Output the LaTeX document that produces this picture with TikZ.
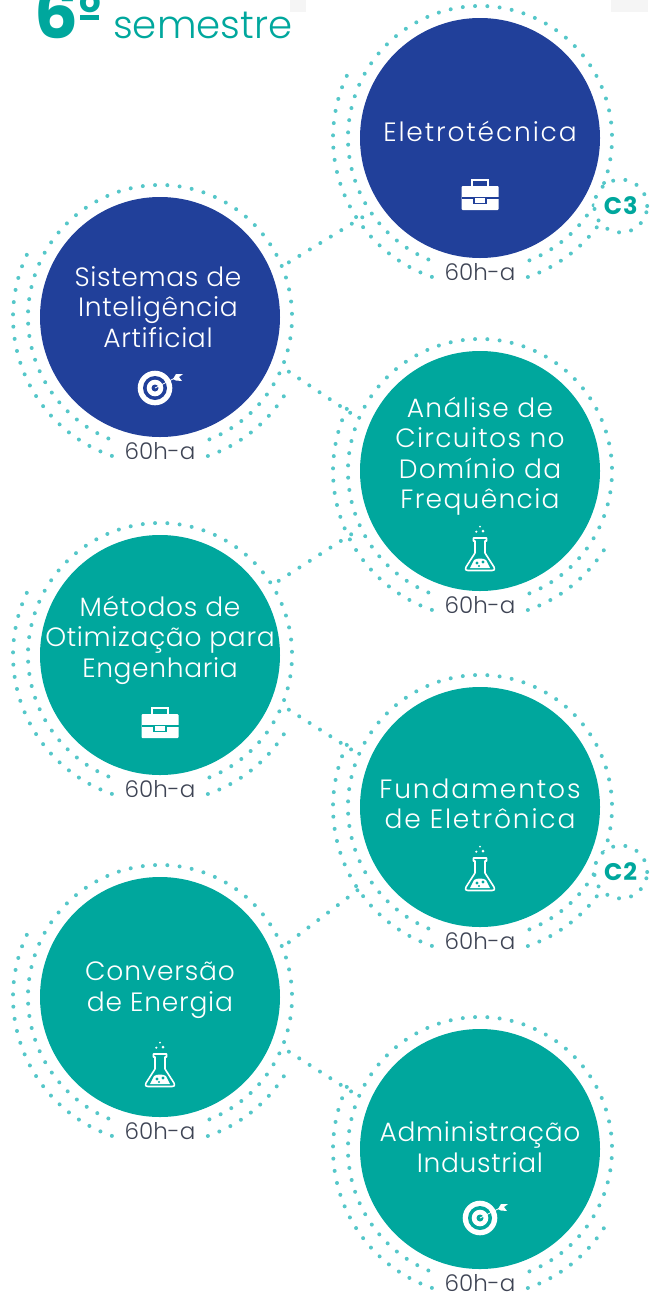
\documentclass[tikz,border=0pt]{standalone}
\usepackage{fontspec}
\setmainfont{Poppins}[UprightFont=*-Light,BoldFont=*-Bold]
\usepackage{tikz}
\usetikzlibrary{arrows,positioning}

\definecolor{navy}{HTML}{21409A}
\definecolor{teal}{HTML}{00A79D}
\definecolor{dotteal}{HTML}{55C7C9}
\definecolor{hourgray}{HTML}{3E4454}

\tikzset{
  semnode/.style={circle,minimum size=240pt,inner sep=0pt,outer sep=20pt},
  navynode/.style={semnode,fill=navy},
  tealnode/.style={semnode,fill=teal},
  semtext/.style={align=center,text=white,font=\fontsize{26.5}{30.5}\selectfont\addfontfeature{LetterSpace=#1}},
  hourlabel/.style={text=hourgray,font=\fontsize{23}{24}\selectfont},
  dotted line/.style={draw=dotteal,line width=4pt,line cap=round,dash pattern=on 0pt off 12.3pt},
  credit/.style={circle,fill=white,minimum size=53pt,inner sep=0pt,dotted line,text=teal,font=\fontsize{24}{26}\selectfont\bfseries\addfontfeature{LetterSpace=4}},
  briefcase/.pic={
    \fill[white,rounded corners=1pt] (-18.5,-15) rectangle (18.5,9);
    \draw[white,line width=2pt] (-8,9) -- (-8,15) -- (8,15) -- (8,9);
    \fill[#1] (-18.5,-3.8) rectangle (18.5,-2.2);
    \draw[#1,fill=white,line width=1.3pt] (-6,-8.5) rectangle (6,-2.5);
  },
  target/.pic={
    \fill[white] (0,0) circle (17.3);
    \fill[#1] (0,0) circle (12);
    \fill[white] (0,0) circle (8.3);
    \fill[#1] (0,0) circle (3.5);
    \draw[white,line width=.8pt] (0,0) -- (20,10);
    \fill[white] (18,9) -- (21,14) -- (28,14) -- (24,11) -- (27,7) -- (21,7.5) -- cycle;
  },
  flask/.pic={
    \draw[white,line width=1.6pt,line join=round] (-6.5,17) -- (6.5,17) -- (6.5,14) -- (5,14) -- (5,2) -- (14,-12)
      .. controls (15,-15) and (14,-15.5) .. (12,-15.5) -- (-12,-15.5) .. controls (-14,-15.5) and (-15,-15) .. (-14,-12)
      -- (-5,2) -- (-5,14) -- (-6.5,14) -- cycle;
    \fill[white] (-10,-13) -- (-6,-5) .. controls (-3,-3) and (3,-3) .. (6,-5) -- (10,-13) -- cycle;
    \fill[#1] (-3,-8) circle (1.7) (3,-7) circle (1.7) (-1,-11) circle (1.2);
    \fill[white] (0,28.3) circle (1) (-3.7,23.3) circle (1.2) (3,24) circle (1.5);
  }
}

\begin{document}
\begin{tikzpicture}[x=1pt,y=1pt]
  \useasboundingbox (0,0) rectangle (657,-1296);

  % leftovers of the neighbouring page
  \fill[black!4] (290,0) rectangle (306,-12);
  \fill[black!4] (611,0) rectangle (648,-12);

  \node[anchor=base west,inner sep=0pt,text=teal,font=\fontsize{69}{69}\selectfont\bfseries] (six) at (34,-38) {6};
  \node[anchor=base west,inner sep=0pt,text=teal,font=\fontsize{34}{34}\selectfont\bfseries] (ord) at (79,-12) {o};
  \fill[teal] (80,-15) rectangle (99,-19.5);
  \node[anchor=base west,inner sep=0pt,text=teal,font=\fontsize{38.7}{38}\selectfont] (sem) at (113,-38) {semestre};

  \node[navynode] (ele) at (480,-138) {};
  \node[navynode] (sis) [left of=ele,node distance=320pt,yshift=-179pt] {};
  \node[tealnode] (ana) [below of=ele,node distance=333pt] {};
  \node[tealnode] (met) [below of=sis,node distance=338pt] {};
  \node[tealnode] (fun) [below of=ana,node distance=336pt] {};
  \node[tealnode] (con) [below of=met,node distance=342pt] {};
  \node[tealnode] (adm) [below of=fun,node distance=342pt] {};

  \node[semtext=7] (eletxt) at ([yshift=7pt]ele) {Eletrotécnica};
  \node[semtext=2.5] (sistxt) at ([xshift=-2pt,yshift=10pt]sis) {Sistemas de\\Inteligência\\Artificial};
  \node[semtext=5] (anatxt) at ([yshift=15pt]ana) {Análise de\\Circuitos no\\Domínio da\\Frequência};
  \node[semtext=2.5] (mettxt) at ([yshift=15pt]met) {Métodos de\\Otimização para\\Engenharia};
  \node[semtext=7] (funtxt) at ([yshift=3pt]fun) {Fundamentos\\de Eletrônica};
  \node[semtext=3] (context) at ([yshift=7pt]con) {Conversão\\de Energia};
  \node[semtext=2.5] (admtxt) at ([yshift=2pt]adm) {Administração\\Industrial};

  \pic at ([yshift=-57pt]ele) {briefcase=navy};
  \pic at ([xshift=-5pt,yshift=-71pt]sis) {target=navy};
  \pic at ([yshift=-84pt]ana) {flask=teal};
  \pic at ([yshift=-68pt]met) {briefcase=teal};
  \pic at ([yshift=-68pt]fun) {flask=teal};
  \pic at ([yshift=-74pt]con) {flask=teal};
  \pic at ([yshift=-69pt]adm) {target=teal};

  \foreach \c in {ele,sis,ana,met,fun,con,adm} {
    \node[hourlabel] (\c hours) [below of=\c,node distance=134pt] {60h-a};
    \draw[dotted line] (\c) ++(-68:132pt) arc[start angle=-68,end angle=250,radius=132pt];
    \draw[dotted line] (\c) ++(155:147pt) arc[start angle=155,end angle=252.4,radius=147pt];
    \draw[dotted line] (\c) ++(-71:147pt) arc[start angle=-71,end angle=-29,radius=147pt];
  }

  \node[credit] (cthree) at (620.7,-206) {C3};
  \node[credit] (ctwo) at (620.7,-872) {C2};

  \draw[dotted line,shorten >=-3pt] (sis.23) -- (ele.214);
  \draw[dotted line,shorten >=-9pt] (sis.-23) -- (ana.156);
  \draw[dotted line,shorten >=-8pt] (met.32) -- (ana.206);
  \draw[dotted line,shorten >=-9pt] (met.-23) -- (fun.156);
  \draw[dotted line,shorten >=-3pt] (con.23) -- (fun.214);
  \draw[dotted line,shorten >=-9pt] (con.-23) -- (adm.156);
\end{tikzpicture}
\end{document}
